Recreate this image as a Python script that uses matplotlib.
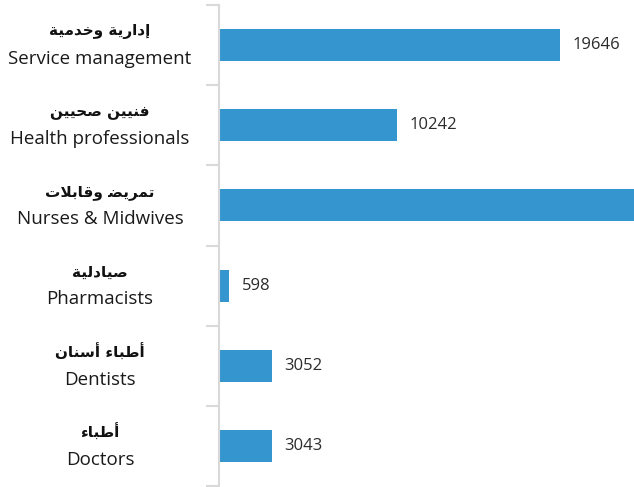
import numpy as np
import matplotlib.pyplot as plt
from matplotlib import transforms

plt.rcParams["font.family"] = ["Open Sans", "DejaVu Sans"]

# Data (top to bottom as in the picture)
english = ["Service management", "Health professionals", "Nurses & Midwives",
           "Pharmacists", "Dentists", "Doctors"]
# Arabic written with presentation forms in visual (left-to-right) order,
# since matplotlib does no Arabic shaping itself
arabic = [
    "\uFE94\uFEF4\uFEE3\uFEAA\uFEA7\uFEED \uFE94\uFEF3\uFEAD\uFE8D\uFEA9\uFE87",  # إدارية وخدمية
    "\uFEE6\uFEF4\uFEF4\uFEA4\uFEBB \uFEE6\uFEF4\uFEF4\uFEE8\uFED3",              # فنيين صحيين
    "\uFE95\uFEFC\uFE91\uFE8E\uFED7\uFEED \uFEC0\uFEF3\uFEAE\uFEE4\uFE97",        # تمريض وقابلات
    "\uFE94\uFEF4\uFEDF\uFEA9\uFE8E\uFEF4\uFEBB",                                 # صيادلية
    "\uFEE5\uFE8E\uFEE8\uFEB3\uFE83 \uFE80\uFE8E\uFE92\uFEC3\uFE83",              # أطباء أسنان
    "\uFE80\uFE8E\uFE92\uFEC3\uFE83",                                             # أطباء
]
values = [19646, 10242, 26000, 598, 3052, 3043]
show_label = [True, True, False, True, True, True]

fig = plt.figure(figsize=(6.34, 4.87), dpi=100)
ax = fig.add_axes([219 / 634, 1 / 487, 415 / 634, 481 / 487])

y = np.arange(len(values))
bars = ax.barh(y, values, height=0.4, color="#3596cf", zorder=2)

ax.set_ylim(len(values) - 0.5, -0.5)
ax.set_xlim(0, 23900)

# value labels
for yi, v, s in zip(y, values, show_label):
    if s:
        ax.annotate(str(v), (v, yi), xytext=(9, 0), textcoords="offset points",
                    va="center", ha="left", fontsize=12, color="#2b2b2b")

# category labels: Arabic above, English below
trans = transforms.blended_transform_factory(fig.transFigure, ax.transData)
for yi, ar, en in zip(y, arabic, english):
    ax.annotate(ar, (100 / 634, yi), xycoords=trans, xytext=(0, 9.5),
                textcoords="offset points", ha="center", va="center",
                fontsize=11, fontweight="bold", color="#111111",
                family=["DejaVu Sans"])
    ax.annotate(en, (100 / 634, yi), xycoords=trans, xytext=(0, -10),
                textcoords="offset points", ha="center", va="center",
                fontsize=13.5, color="#1a1a1a")

# axis styling
for side in ["top", "right", "bottom"]:
    ax.spines[side].set_visible(False)
ax.spines["left"].set_color("#d9d9d9")
ax.spines["left"].set_linewidth(1.5)
ax.set_xticks([])
ax.set_yticks([])
ax.set_yticks(np.arange(len(values) + 1) - 0.5, minor=True)
ax.tick_params(axis="y", which="minor", length=9.5, width=1.5, color="#d9d9d9",
               labelleft=False)

fig.savefig("out.png", dpi=100)
